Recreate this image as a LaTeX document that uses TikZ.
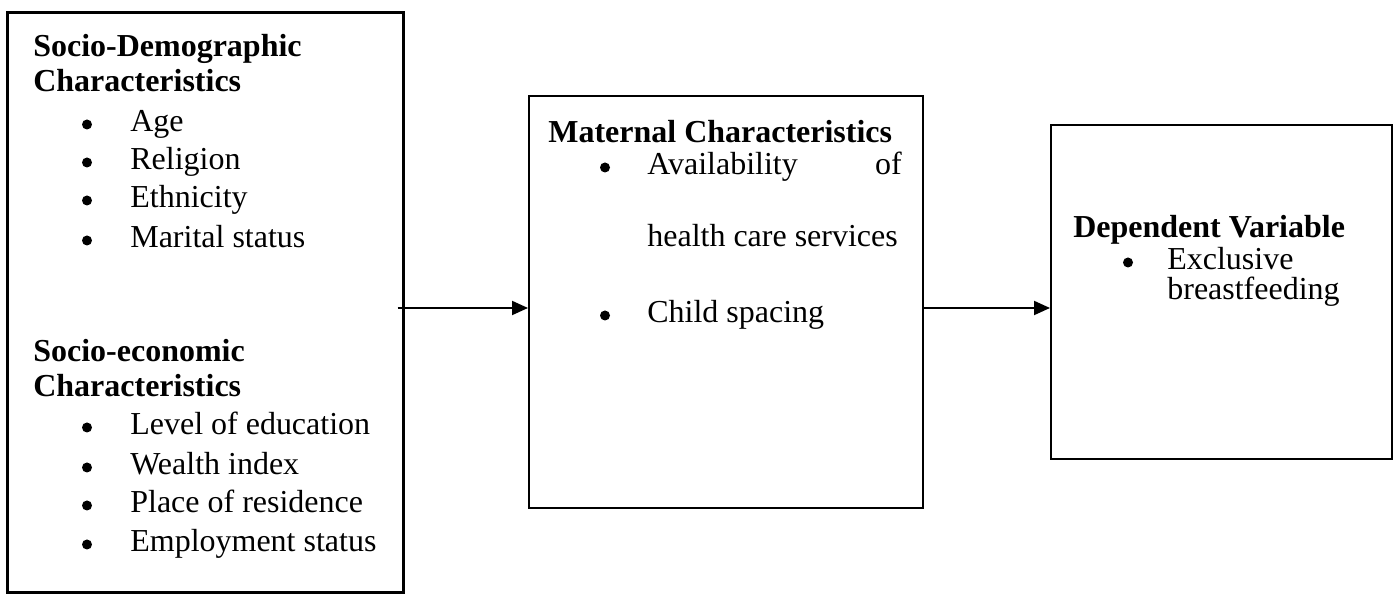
\documentclass[tikz,border=0pt]{standalone}
\usepackage{fontspec}
\setmainfont{Liberation Serif}
\usetikzlibrary{arrows.meta}

\begin{document}
\begin{tikzpicture}[
  font=\fontsize{18.2}{21}\selectfont,
  box/.style={draw, line width=0.04cm, rectangle, inner sep=0},
  head/.style={anchor=base west, inner sep=0, font=\fontsize{18.2}{21}\selectfont\bfseries},
  item/.style={anchor=base west, inner sep=0},
  dot/.style={circle, fill=black, inner sep=0, minimum size=0.2cm},
  arr/.style={line width=0.04cm, -{Triangle[length=0.32cm, width=0.28cm]}}
]

% Page frame
\useasboundingbox (0,0) rectangle (27.98,11.90);

% Parameters
\def\ay{5.74}      % height of the two arrows
\def\bx{0.86}      % bullet sits this far left of its item
\def\by{0.15}      % bullet lift above the baseline

% Boxes
\node[box, line width=0.06cm, minimum width=7.92cm, minimum height=11.60cm] (demo) at (4.10,5.84) {};
\node[box, minimum width=7.88cm, minimum height=8.24cm] (mat) at (14.52,5.86) {};
\node[box, minimum width=6.82cm, minimum height=6.68cm] (dep) at (24.43,6.06) {};

% Socio-demographic block
\node[head] (sdh1) at (0.66,10.76) {Socio-Demographic};
\node[head] (sdh2) at (0.66,10.06) {Characteristics};
\foreach \y/\t [count=\i] in {9.26/Age, 8.50/Religion, 7.74/Ethnicity, 6.94/Marital status} {
  \node[item] (sd\i) at (2.60,\y) {\t};
  \node[dot] (sdb\i) at ([xshift=-\bx cm, yshift=\by cm]sd\i.base west) {};
}

% Socio-economic block
\node[head] (seh1) at (0.66,4.66) {Socio-economic};
\node[head] (seh2) at (0.66,3.96) {Characteristics};
\foreach \y/\t [count=\i] in {3.20/Level of education, 2.40/Wealth index, 1.64/Place of residence, 0.86/Employment status} {
  \node[item] (se\i) at (2.60,\y) {\t};
  \node[dot] (seb\i) at ([xshift=-\bx cm, yshift=\by cm]se\i.base west) {};
}

% Maternal block
\node[head] (mh) at (10.96,9.04) {Maternal Characteristics};
\node[item] (m1) at (12.94,8.40) {Availability};
\node[item, anchor=base east] (m1b) at (18.04,8.40) {of};
\node[item] (m1c) at (12.94,6.96) {health care services};
\node[item] (m2) at (12.94,5.44) {Child spacing};
\node[dot] (mb1) at ([xshift=-0.84cm, yshift=\by cm]m1.base west) {};
\node[dot] (mb2) at ([xshift=-0.84cm, yshift=\by cm]m2.base west) {};

% Outcome block
\node[head] (dh) at (21.46,7.14) {Dependent Variable};
\node[item] (d1) at (23.34,6.50) {Exclusive};
\node[item] (d1b) at (23.34,5.90) {breastfeeding};
\node[dot] (db1) at ([xshift=-0.78cm, yshift=\by cm]d1.base west) {};

% Arrows
\draw[arr] ([xshift=-0.14cm]demo.east |- 0,\ay) -- (mat.west |- 0,\ay);
\draw[arr] (mat.east |- 0,\ay) -- (dep.west |- 0,\ay);

\end{tikzpicture}
\end{document}
